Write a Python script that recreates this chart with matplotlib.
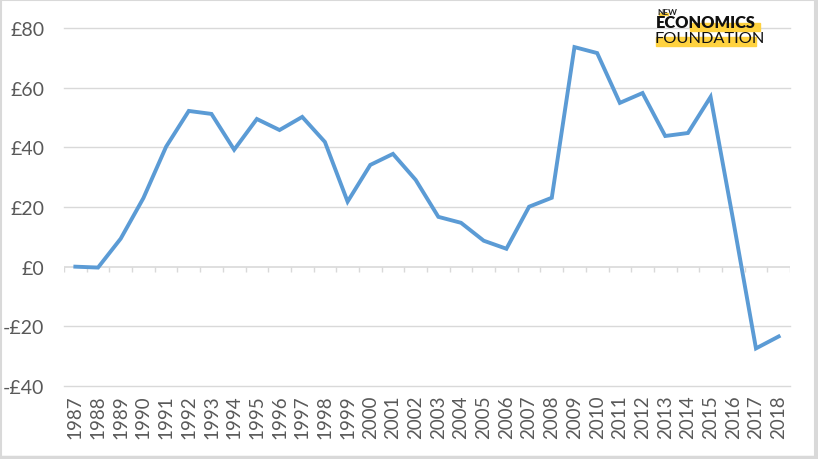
import matplotlib
matplotlib.use("Agg")
import matplotlib.pyplot as plt
from matplotlib.patches import Rectangle

years = [str(y) for y in range(1987, 2019)]
values = [0.0, -0.3, 9.4, 23.0, 40.2, 52.2, 51.2, 39.2, 49.5, 45.8, 50.2, 41.8,
          21.8, 34.1, 37.8, 29.1, 16.7, 14.7, 8.7, 6.0, 20.1, 23.1, 73.6, 71.6,
          54.9, 58.2, 43.8, 44.8, 56.9, 15.4, -27.4, -23.4]
yticks = [-40, -20, 0, 20, 40, 60, 80]
ytick_labels = ["-£40", "-£20", "£0", "£20", "£40", "£60", "£80"]

plt.rcParams['font.family'] = ['Lato', 'DejaVu Sans']

W, H = 818, 460
fig = plt.figure(figsize=(W / 100, H / 100), dpi=100)
ax = fig.add_axes([64 / W, 1 - 387 / H, (790 - 64) / W, (387 - 29) / H])

n = len(years)
xs = list(range(n))
ax.set_xlim(-0.5, n - 0.5)
ax.set_ylim(-40, 80)

for yv in yticks:
    if yv != 0:
        ax.axhline(yv, color='#d9d9d9', lw=1.0, zorder=1, clip_on=False)
ax.axhline(0, color='#d9d9d9', lw=1.2, zorder=1)
bounds = [i - 0.5 for i in range(n + 1)]
ax.vlines(bounds, -1.8, 0, color='#d9d9d9', lw=1.0, zorder=1)

ax.plot(xs, values, color='#5B9BD5', lw=2.8, solid_joinstyle='miter', zorder=3)

ax.set_yticks(yticks)
ax.set_yticklabels(ytick_labels, fontsize=14, color='#595959')
ax.set_xticks(xs)
ax.set_xticklabels(years, rotation=90, fontsize=13.5, color='#595959')
ax.tick_params(axis='both', length=0)
ax.tick_params(axis='x', pad=6)
ax.tick_params(axis='y', pad=14)
for s in ax.spines.values():
    s.set_visible(False)

# figure border
fig.patches.append(Rectangle((0.5 / W, 2.5 / H), (W - 3.5) / W, (H - 3.5) / H,
                             transform=fig.transFigure, fill=False,
                             edgecolor='#d9d9d9', lw=1.5, zorder=0))
fig.patches.append(Rectangle((1 - 3 / W, 0), 3 / W, 1, transform=fig.transFigure,
                             color='#d9d9d9', zorder=0))
fig.patches.append(Rectangle((0, 0), 1, 3 / H, transform=fig.transFigure,
                             color='#d9d9d9', zorder=0))

# logo
yel = '#FFD23F'
def fr(x0, y0, x1, y1):
    fig.patches.append(Rectangle((x0 / W, 1 - y1 / H), (x1 - x0) / W, (y1 - y0) / H,
                                 transform=fig.transFigure, color=yel, zorder=2))
fr(659, 14, 668, 16)
fr(690, 24, 760, 32)
fr(656, 38, 756, 47)
fig.text(657 / W, 1 - 12.5 / H, "NEW", fontsize=6, color='#222222', va='center',
         ha='left', fontweight='bold', zorder=5)
fig.text(656 / W, 1 - 23.5 / H, "ECONOMICS", fontsize=11.8, color='#111111', va='center',
         ha='left', fontweight='heavy', zorder=5)
fig.text(654 / W, 1 - 39 / H, "FOUNDATION", fontsize=11.8, color='#111111', va='center',
         ha='left', fontweight='normal', zorder=5)

fig.savefig("out.png", dpi=100, facecolor='white')
